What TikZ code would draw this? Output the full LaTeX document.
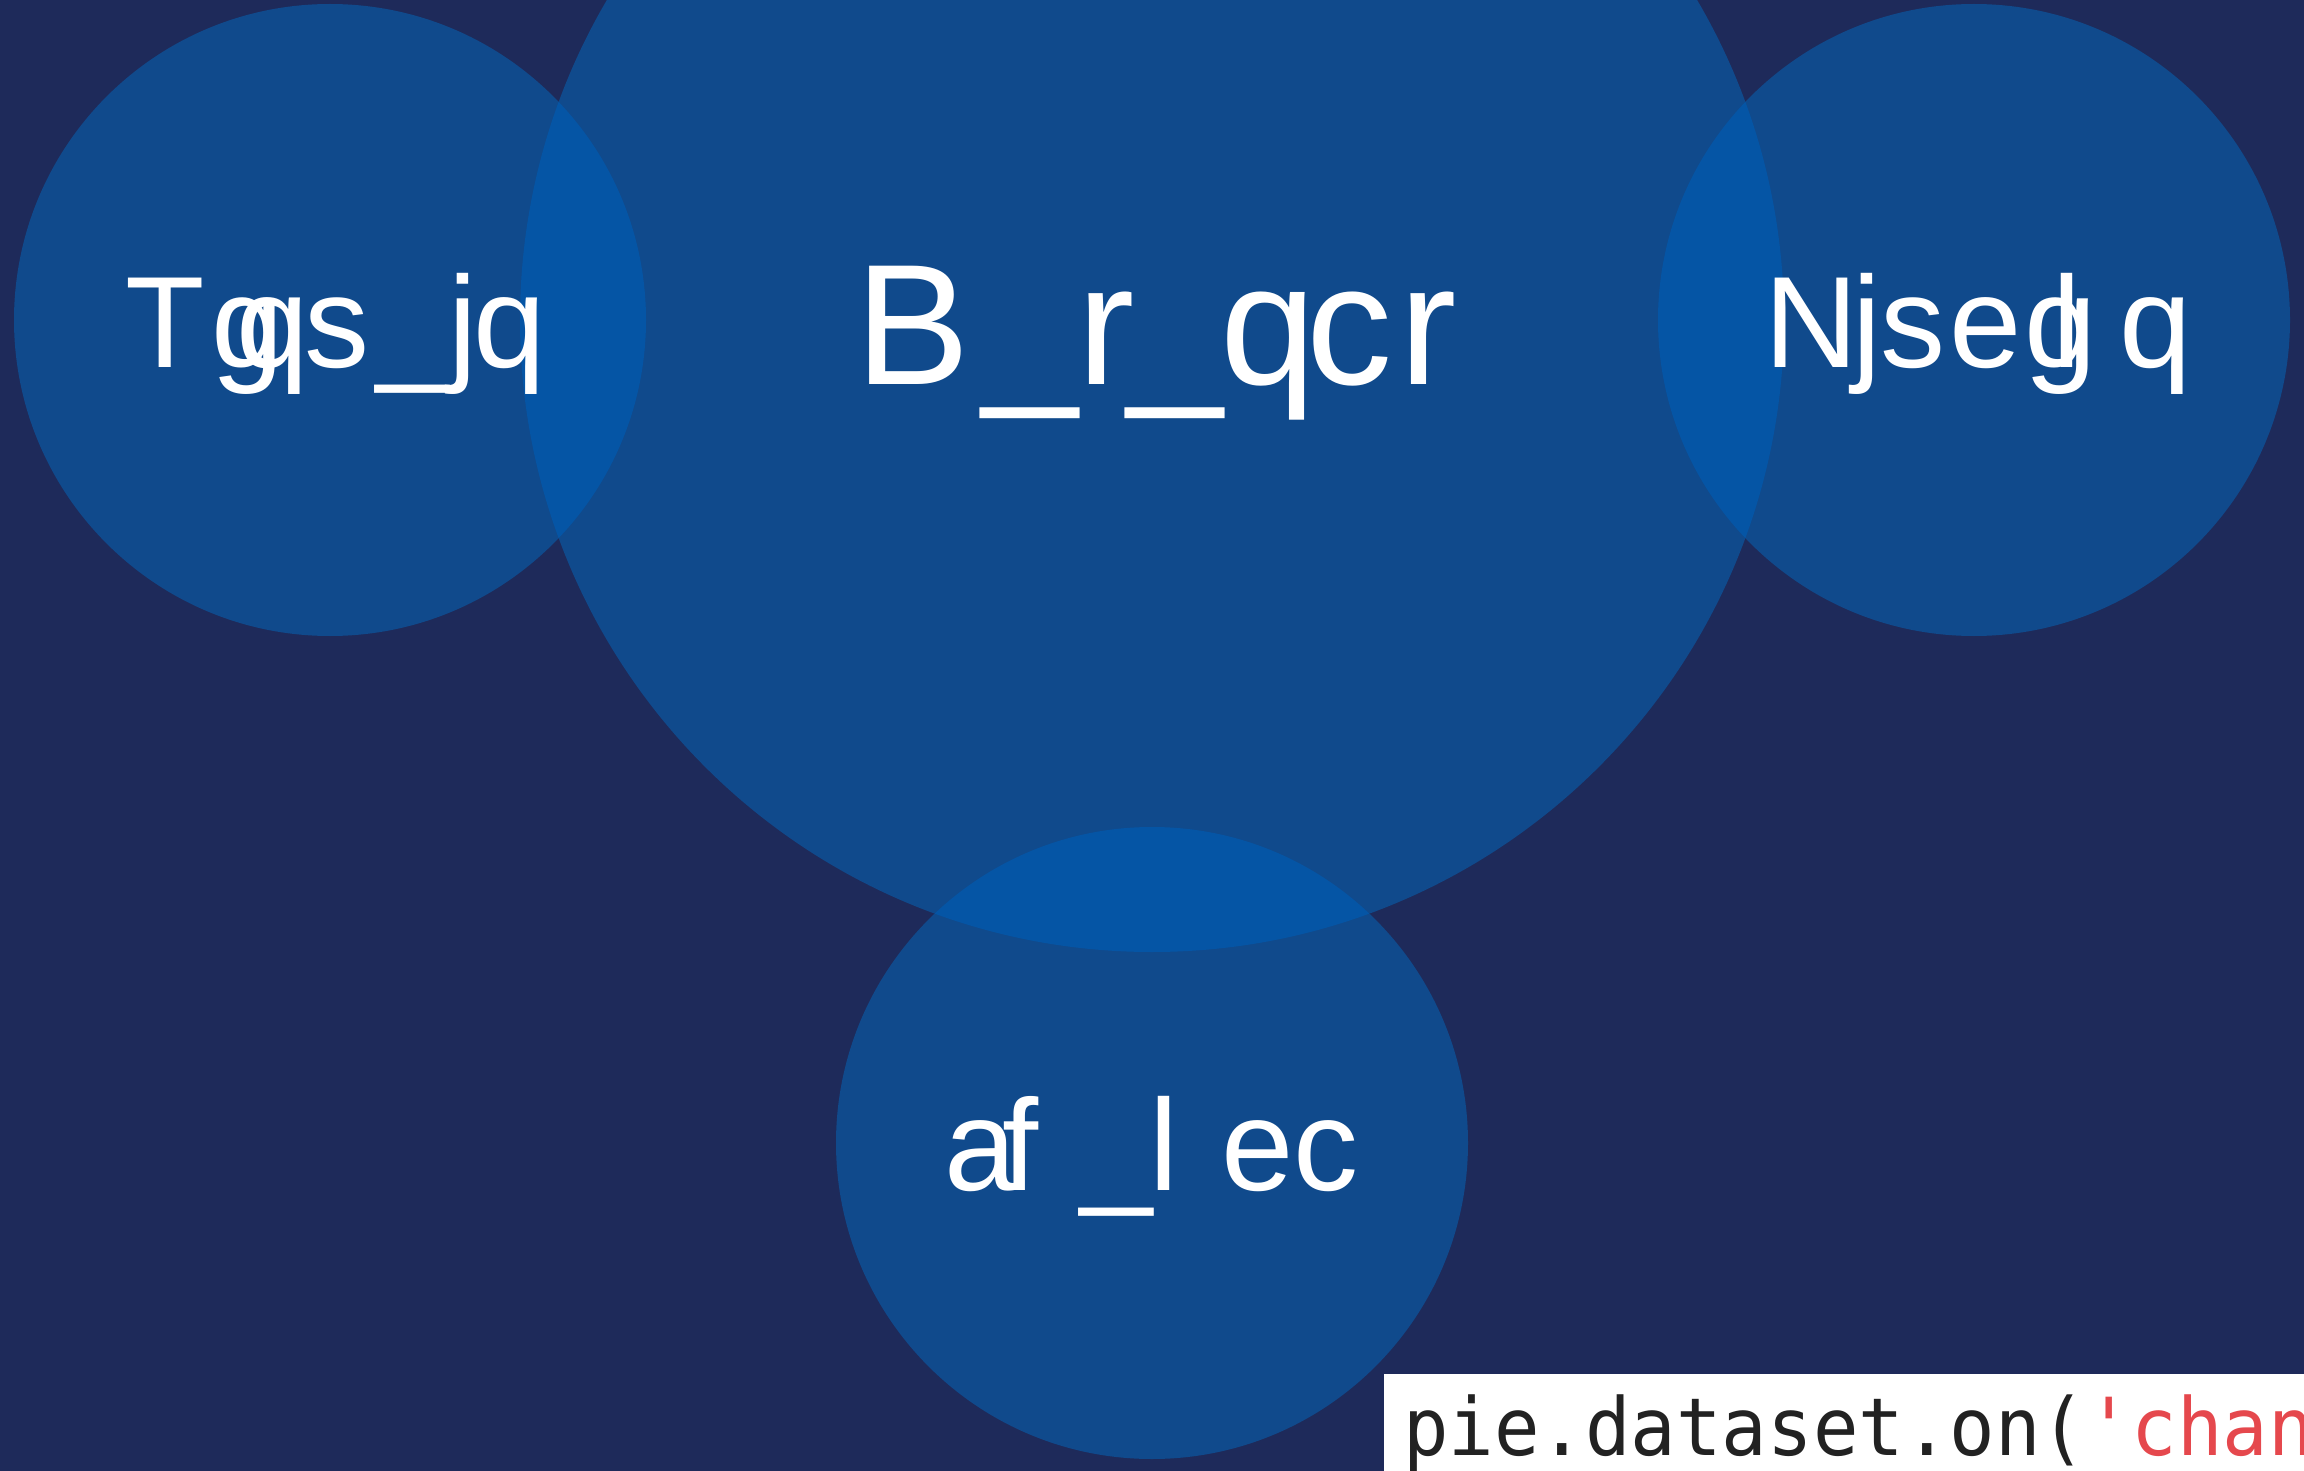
\documentclass[tikz,border=0pt]{standalone}
\usepackage{fontspec}
\setmainfont{Liberation Sans}
\newfontfamily\codefont[FakeStretch=0.945]{DejaVu Sans Mono}
\definecolor{bg}{HTML}{1E2A5A}
\definecolor{circ}{HTML}{104A8C}
\definecolor{lap}{HTML}{0555A5}
\definecolor{codeink}{HTML}{222222}
\definecolor{codered}{HTML}{E5484D}
\newcommand\gly[2]{\hbox to 0pt{\kern#1\relax#2\hss}}
\tikzset{
  bubble/.style={circle, fill=circ, inner sep=0pt, minimum size=#1},
  lbl/.style={text=white, inner sep=0pt, anchor=base west},
}
\begin{document}
\begin{tikzpicture}[x=0.5pt,y=-0.5pt]
\fill[bg] (0,0) rectangle (2304,1471);
\useasboundingbox (0,0) rectangle (2304,1471);
% circles
\node[bubble=316pt] (cL) at (330,320) {};
\node[bubble=632pt] (cC) at (1152,320) {};
\node[bubble=316pt] (cR) at (1974,320) {};
\node[bubble=316pt] (cB) at (1152,1143) {};
% overlaps
\begin{scope}
  \clip (cC.center) circle[radius=316pt];
  \fill[lap] (cL.center) circle[radius=158pt];
  \fill[lap] (cR.center) circle[radius=158pt];
  \fill[lap] (cB.center) circle[radius=158pt];
\end{scope}
% labels
\node[lbl, font=\fontsize{65pt}{78pt}\selectfont] (tL) at (124,368)
  {\gly{0pt}{T}\gly{43pt}{g}\gly{55.5pt}{q}\gly{89.5pt}{s}\gly{125.5pt}{\_}\gly{161.5pt}{j}\gly{174pt}{q}};
\node[lbl, font=\fontsize{86pt}{100pt}\selectfont] (tC) at (854,385)
  {\gly{0pt}{B}\gly{63.5pt}{\_}\gly{110.8pt}{r}\gly{136pt}{\_}\gly{182.4pt}{q}\gly{225.65pt}{c}\gly{272.3pt}{r}};
\node[lbl, font=\fontsize{65pt}{78pt}\selectfont] (tR) at (1763,368)
  {\gly{0pt}{N}\gly{44pt}{j}\gly{58pt}{s}\gly{92.5pt}{e}\gly{130pt}{g}\gly{144pt}{l}\gly{177.5pt}{q}};
\node[lbl, font=\fontsize{65pt}{78pt}\selectfont] (tB) at (943,1190)
  {\gly{0pt}{a}\gly{29pt}{f}\gly{68pt}{\_}\gly{102.5pt}{l}\gly{138.5pt}{e}\gly{174.5pt}{c}};
% code snippet
\begin{scope}
  \clip (1384,1374) rectangle (2304,1471);
  \fill[white] (1384,1374) rectangle (2304,1471);
  \node[inner sep=0pt, anchor=base west, font=\codefont\fontsize{40pt}{48pt}\selectfont] (code) at (1403,1455)
    {\textcolor{codeink}{pie.dataset.on(}\textcolor{codered}{\char39 chan}};
\end{scope}
\end{tikzpicture}
\end{document}
